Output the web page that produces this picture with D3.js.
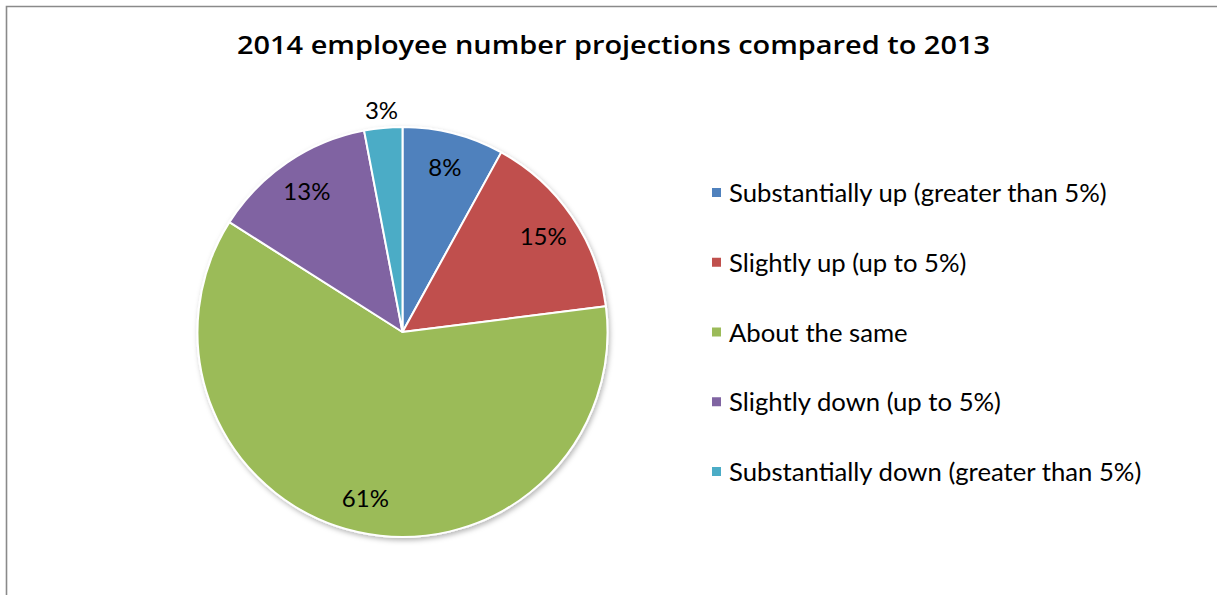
<!DOCTYPE html>
<html>
<head>
<meta charset="utf-8">
<script src="https://cdn.jsdelivr.net/npm/d3@7"></script>
<style>
  html, body { margin: 0; padding: 0; background: #fff; }
  svg { display: block; }
</style>
</head>
<body>
<svg id="chart" width="1217" height="595"></svg>
<script>
// Survey answers: how employee numbers are expected to change in 2014 vs 2013
const categories = [
  "Substantially up (greater than 5%)",
  "Slightly up (up to 5%)",
  "About the same",
  "Slightly down (up to 5%)",
  "Substantially down (greater than 5%)"
];
const shares = [8, 15, 61, 13, 3];
const sliceColors = ["#4F81BD", "#C0504D", "#9BBB59", "#8064A2", "#4BACC6"];
const titleText = "2014 employee number projections compared to 2013";

const W = 1217, H = 595;
const svg = d3.select("#chart");

// Chart frame (top and left edges visible within the window)
svg.append("path")
  .attr("d", `M6.5,${H} V6.5 H${W}`)
  .attr("fill", "none")
  .attr("stroke", "#8a8a8a")
  .attr("stroke-width", 1.6);

// Title, fitted to its span
svg.append("text")
  .attr("x", 613.5)
  .attr("y", 54)
  .attr("text-anchor", "middle")
  .style("font-family", "'Open Sans', 'Liberation Sans', sans-serif")
  .style("font-weight", 600)
  .style("font-size", "26px")
  .attr("fill", "#000")
  .attr("textLength", 753)
  .attr("lengthAdjust", "spacingAndGlyphs")
  .text(titleText);

// Soft shadow under the pie
const defs = svg.append("defs");
const f = defs.append("filter").attr("id", "pieShadow")
  .attr("x", "-10%").attr("y", "-10%").attr("width", "120%").attr("height", "120%");
f.append("feDropShadow")
  .attr("dx", 1.5).attr("dy", 2.5)
  .attr("stdDeviation", 2.5)
  .attr("flood-color", "#000")
  .attr("flood-opacity", 0.28);

const cx = 402.5, cy = 332, R = 205;
const color = d3.scaleOrdinal().domain(categories).range(sliceColors);

const pie = d3.pie().sort(null).value(d => d.value);
const data = categories.map((c, i) => ({ name: c, value: shares[i] }));
const arcs = pie(data);

const arc = d3.arc().innerRadius(0).outerRadius(R);
const insideLabel = d3.arc().innerRadius(R * 0.83).outerRadius(R * 0.83);
const outsideLabel = d3.arc().innerRadius(R + 18).outerRadius(R + 18);

const g = svg.append("g").attr("transform", `translate(${cx},${cy})`);

g.append("g").attr("filter", "url(#pieShadow)")
  .selectAll("path")
  .data(arcs)
  .join("path")
  .attr("d", arc)
  .attr("fill", d => color(d.data.name))
  .attr("stroke", "#fff")
  .attr("stroke-width", 2)
  .attr("stroke-linejoin", "round");

g.selectAll("text.pct")
  .data(arcs)
  .join("text")
  .attr("class", "pct")
  .attr("transform", d => {
    const p = (d.data.value < 5 ? outsideLabel : insideLabel).centroid(d);
    return `translate(${p[0]},${p[1]})`;
  })
  .attr("text-anchor", "middle")
  .attr("dy", "0.36em")
  .style("font-family", "Lato, 'Open Sans', sans-serif")
  .style("font-size", "24px")
  .attr("fill", "#000")
  .text(d => d.data.value + "%");

// Legend
const legendX = 712, legendY = 188, legendStep = 69.75;
const legend = svg.append("g");
const items = legend.selectAll("g")
  .data(categories)
  .join("g")
  .attr("transform", (d, i) => `translate(${legendX},${legendY + i * legendStep})`);

items.append("rect")
  .attr("width", 9).attr("height", 9)
  .attr("fill", d => color(d));

const labels = items.append("text")
  .attr("x", 17)
  .attr("y", 14)
  .style("font-family", "Lato, 'Open Sans', sans-serif")
  .style("font-size", "23px")
  .attr("fill", "#000")
  .text(d => d);

// Scale legend font so the first entry spans its width
const first = labels.node();
const w0 = first.getComputedTextLength();
const fs = 23 * 378 / w0;
labels.style("font-size", fs + "px");
</script>
</body>
</html>
